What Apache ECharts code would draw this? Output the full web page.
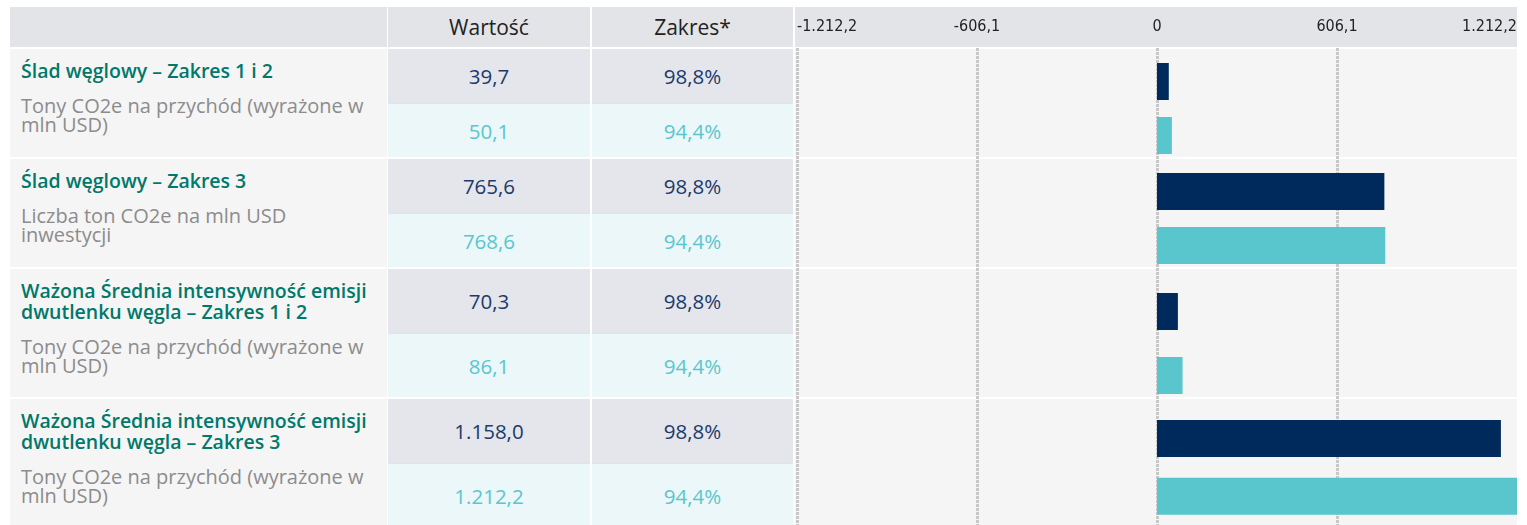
<!DOCTYPE html>
<html>
<head>
<meta charset="utf-8">
<script src="https://cdn.jsdelivr.net/npm/echarts@6/dist/echarts.min.js"></script>
<style>
body{margin:0;background:#fff;font-family:'Open Sans',sans-serif;}
#page{position:relative;width:1527px;height:525px;overflow:hidden;background:#fff;}
.cell{position:absolute;box-sizing:border-box;}
.hd{background:#e3e4e8;color:#222;font-size:21px;text-align:center;line-height:40px;}
.lab{background:#f5f5f5;padding:11px 10px 0 11px;}
.ttl{color:#00786a;font-weight:600;font-size:19.5px;line-height:21px;white-space:pre-line;}
.sub{color:#8c8c8c;font-size:20px;line-height:19px;white-space:pre-line;margin-top:15px;}
.val{font-size:20.5px;display:flex;align-items:center;justify-content:center;}
.fund{background:#e4e6eb;color:#1b3a6b;}
.bench{background:#ebf7f8;color:#5bc6cf;border-top:1px solid #d6e8ee;}
.plot{background:#f5f5f5;}
#chart{position:absolute;left:0;top:0;width:1527px;height:525px;}
</style>
</head>
<body>
<div id="page"><div id="chart"></div></div>
<script>
// dane
var headers = ['', 'Wartość', 'Zakres*', ''];
var titles = [
	'Ślad węglowy – Zakres 1 i 2',
	'Ślad węglowy – Zakres 3',
	'Ważona Średnia intensywność emisji\ndwutlenku węgla – Zakres 1 i 2',
	'Ważona Średnia intensywność emisji\ndwutlenku węgla – Zakres 3'
];
var subtitles = [
	'Tony CO2e na przychód (wyrażone w\nmln USD)',
	'Liczba ton CO2e na mln USD\ninwestycji',
	'Tony CO2e na przychód (wyrażone w\nmln USD)',
	'Tony CO2e na przychód (wyrażone w\nmln USD)'
];
var fundValues = [39.7, 765.6, 70.3, 1158.0];
var benchValues = [50.1, 768.6, 86.1, 1212.2];
var fundCoverage = [98.8, 98.8, 98.8, 98.8];
var benchCoverage = [94.4, 94.4, 94.4, 94.4];
var axisTicks = [-1212.2, -606.1, 0, 606.1, 1212.2];

// uklad
var cols = [{x:10,w:377},{x:388,w:202},{x:592,w:201},{x:795,w:722}];
var headTop = 7, headH = 40;
var rowHeights = [54, 54, 64, 64];
var firstTop = 49, groupGap = 2;
var navy = '#002a5c', teal = '#59c6ce';

function fmt(v) {
	var s = Math.abs(v).toFixed(1).split('.');
	var intPart = s[0].replace(/\B(?=(\d{3})+(?!\d))/g, '.');
	return (v < 0 ? '-' : '') + intPart + ',' + s[1];
}

var page = document.getElementById('page');
var chartDiv = document.getElementById('chart');
function addCell(cls, x, y, w, h, html) {
	var d = document.createElement('div');
	d.className = 'cell ' + cls;
	d.style.left = x + 'px'; d.style.top = y + 'px';
	d.style.width = w + 'px'; d.style.height = h + 'px';
	if (html != null) d.innerHTML = html;
	page.insertBefore(d, chartDiv);
	return d;
}
function esc(t) { return t.replace(/&/g,'&amp;').replace(/</g,'&lt;'); }

for (var c = 0; c < cols.length; c++) {
	addCell('hd', cols[c].x, headTop, cols[c].w, headH, esc(headers[c]));
}

var groupTops = [];
var curTop = firstTop;
for (var g = 0; g < titles.length; g++) {
	var rh = rowHeights[g];
	groupTops.push(curTop);
	addCell('lab', cols[0].x, curTop, cols[0].w, rh * 2,
		'<div class="ttl">' + esc(titles[g]) + '</div><div class="sub">' + esc(subtitles[g]) + '</div>');
	addCell('val fund', cols[1].x, curTop, cols[1].w, rh, fmt(fundValues[g]));
	addCell('val bench', cols[1].x, curTop + rh, cols[1].w, rh, fmt(benchValues[g]));
	addCell('val fund', cols[2].x, curTop, cols[2].w, rh, fmt(fundCoverage[g]) + '%');
	addCell('val bench', cols[2].x, curTop + rh, cols[2].w, rh, fmt(benchCoverage[g]) + '%');
	addCell('plot', cols[3].x, curTop, cols[3].w, rh * 2);
	curTop += rh * 2 + groupGap;
}

// wykres
var myChart = echarts.init(chartDiv, null, {renderer: 'canvas'});
var axisMin = axisTicks[0], axisMax = axisTicks[axisTicks.length - 1];
var gridArr = [{left: 797, right: 10, top: 48, bottom: 0}];
var xAxisArr = [{
	gridIndex: 0, type: 'value', position: 'top',
	min: axisMin, max: axisMax, interval: axisTicks[1] - axisTicks[0],
	axisLine: {show: false}, axisTick: {show: false},
	axisLabel: {
		margin: 13, color: '#222', fontSize: 16, fontFamily: 'DejaVu Sans Condensed',
		alignMinLabel: 'left', alignMaxLabel: 'right',
		formatter: function(v) { return Math.abs(v) < 1e-6 ? '0' : fmt(v); }
	},
	splitLine: {show: true, showMaxLine: false, lineStyle: {color: '#c8c8c8', width: 3, type: [3, 1]}}
}];
var yAxisArr = [{gridIndex: 0, type: 'value', show: false}];
var seriesArr = [];
for (var g = 0; g < titles.length; g++) {
	var rh = rowHeights[g];
	gridArr.push({left: 797, right: 10, top: groupTops[g] + rh / 2 - 21.5, height: rh * 2});
	xAxisArr.push({gridIndex: g + 1, type: 'value', min: axisMin, max: axisMax, show: false, splitLine: {show: false}});
	yAxisArr.push({gridIndex: g + 1, type: 'category', inverse: true, data: ['f', 'b'], show: false});
	seriesArr.push({
		type: 'bar', xAxisIndex: g + 1, yAxisIndex: g + 1, barWidth: 37, silent: true,
		data: [
			{value: fundValues[g], itemStyle: {color: navy}},
			{value: benchValues[g], itemStyle: {color: teal}}
		]
	});
}
myChart.setOption({
	animation: false,
	grid: gridArr,
	xAxis: xAxisArr,
	yAxis: yAxisArr,
	series: seriesArr
});
</script>
</body>
</html>
